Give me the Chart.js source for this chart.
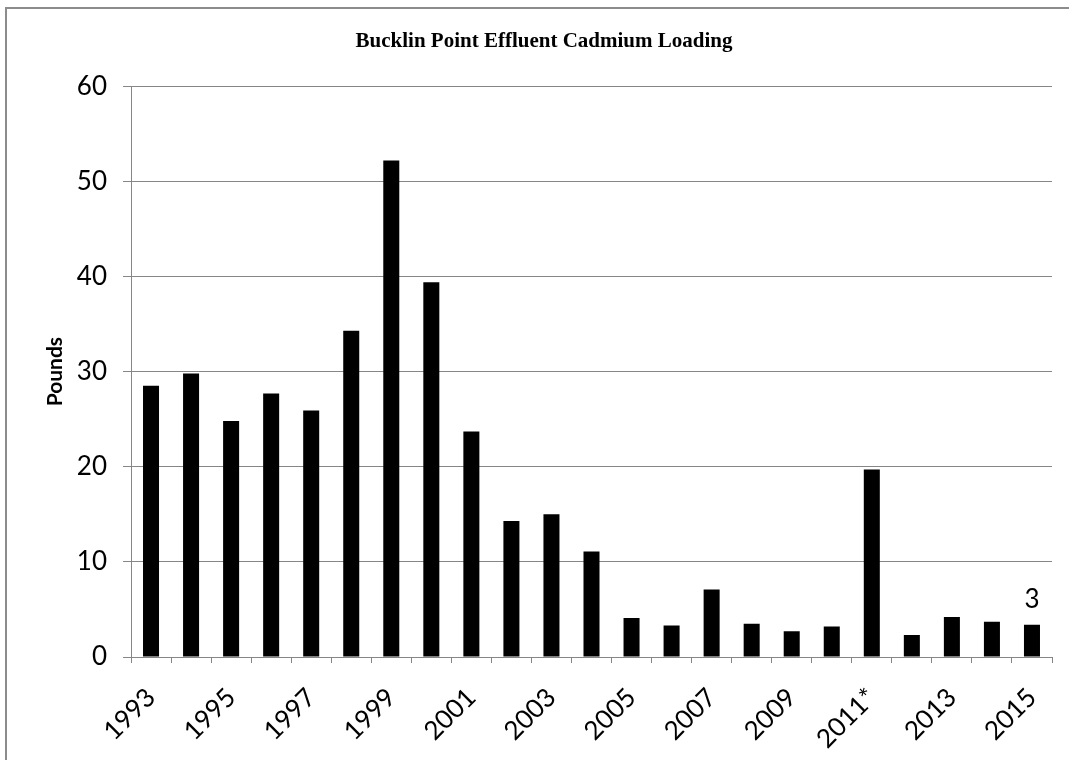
<!DOCTYPE html>
<html>
<head>
<meta charset="utf-8">
<script src="https://cdn.jsdelivr.net/npm/chart.js@4.4.1/dist/chart.umd.min.js"></script>
<style>
  html, body { margin: 0; padding: 0; background: #fff; overflow: hidden; }
  #wrap { position: relative; width: 1069px; height: 760px; overflow: hidden; }
  #frame { position: absolute; left: 5px; top: 7px; width: 1200px; height: 900px;
           border-left: 2px solid #8c8c8c; border-top: 2px solid #8c8c8c; }
  #myChart { position: absolute; left: 0; top: 0; }
</style>
</head>
<body>
<div id="wrap">
  <div id="frame"></div>
  <canvas id="myChart" width="1069" height="760"></canvas>
</div>
<script>
const years = ['1993', '1994', '1995', '1996', '1997', '1998', '1999', '2000', '2001', '2002', '2003', '2004',
               '2005', '2006', '2007', '2008', '2009', '2010', '2011*', '2012', '2013', '2014', '2015'];
const pounds = [28.5, 29.8, 24.8, 27.7, 25.9, 34.3, 52.2, 39.4, 23.7, 14.3, 15.0, 11.1,
                4.1, 3.3, 7.1, 3.5, 2.7, 3.2, 19.7, 2.3, 4.2, 3.7, 3.4];
// only the last bar carries a value label in the original
const valueLabels = [null, null, null, null, null, null, null, null, null, null, null, null,
                     null, null, null, null, null, null, null, null, null, null, '3'];
const yTicks = [0, 10, 20, 30, 40, 50, 60];

const axisGray = '#868686';
const tickFont = { family: 'Lato', size: 26 };

// draws the single value label above its bar
const valueLabelPlugin = {
    id: 'valueLabels',
    afterLayout(chart) {
        // the original title sits a little right of the canvas centre
        chart.titleBlock.left += 18;
        chart.titleBlock.right += 18;
    },
    afterDatasetsDraw(chart) {
        const ctx = chart.ctx;
        const meta = chart.getDatasetMeta(0);
        ctx.save();
        ctx.font = '26px Lato';
        ctx.fillStyle = '#000';
        ctx.textAlign = 'center';
        ctx.textBaseline = 'bottom';
        meta.data.forEach((bar, i) => {
            if (valueLabels[i]) {
                ctx.fillText(valueLabels[i], bar.x, bar.y - 12);
            }
        });
        ctx.restore();
    }
};

new Chart(document.getElementById('myChart'), {
    type: 'bar',
    data: {
        labels: years,
        datasets: [{
            label: 'Pounds',
            data: pounds,
            backgroundColor: '#000',
            borderWidth: 0,
            barPercentage: 0.4,
            categoryPercentage: 1.0
        }]
    },
    options: {
        responsive: false,
        animation: false,
        layout: { padding: { left: 0, right: 17, top: 0, bottom: 0 } },
        plugins: {
            legend: { display: false },
            tooltip: { enabled: false },
            title: {
                display: true,
                text: 'Bucklin Point Effluent Cadmium Loading',
                color: '#000',
                font: { family: 'Liberation Serif', size: 21, weight: 'bold' },
                padding: { top: 29, bottom: 32 }
            }
        },
        scales: {
            x: {
                grid: {
                    drawOnChartArea: false,
                    drawTicks: true,
                    tickLength: 6,
                    color: axisGray
                },
                border: { color: axisGray, width: 1 },
                ticks: {
                    color: '#000',
                    font: tickFont,
                    autoSkip: false,
                    minRotation: 45,
                    maxRotation: 45,
                    padding: 19,
                    callback: function(value, index) {
                        return index % 2 === 0 ? this.getLabelForValue(value) : '';
                    }
                },
                afterFit(scale) {
                    scale.height = 103;
                    scale.paddingLeft = 0;
                    scale.paddingRight = 0;
                }
            },
            y: {
                min: 0,
                max: 60,
                afterBuildTicks(scale) { scale.ticks = yTicks.map(v => ({ value: v })); },
                grid: { color: axisGray, tickLength: 8 },
                border: { color: axisGray, width: 1 },
                ticks: { color: '#000', font: tickFont, padding: 16 },
                title: {
                    display: true,
                    text: 'Pounds',
                    color: '#000',
                    font: { family: 'Lato', size: 21, weight: 'bold' },
                    padding: { top: 43, bottom: 0 }
                },
                afterFit(scale) { scale.width = 131; }
            }
        }
    },
    plugins: [valueLabelPlugin]
});
</script>
</body>
</html>
